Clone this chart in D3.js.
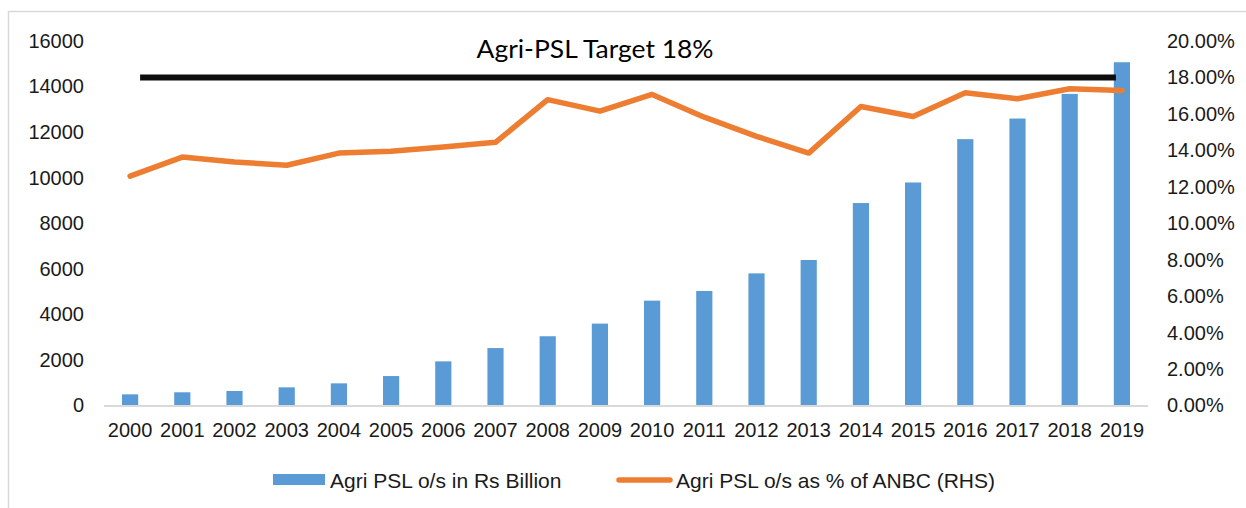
<!DOCTYPE html>
<html>
<head>
<meta charset="utf-8">
<script src="https://cdn.jsdelivr.net/npm/d3@7"></script>
<style>
  html, body { margin: 0; padding: 0; background: #fff; }
  svg { display: block; }
</style>
</head>
<body>
<svg id="chart" width="1246" height="508"></svg>
<script>
const years = ["2000","2001","2002","2003","2004","2005","2006","2007","2008","2009",
               "2010","2011","2012","2013","2014","2015","2016","2017","2018","2019"];
const psl = [490, 580, 636, 798, 973, 1293, 1938, 2521, 3040, 3595,
             4603, 5028, 5800, 6388, 8887, 9790, 11692, 12596, 13678, 15068];
const pslPct = [0.1259, 0.1363, 0.1336, 0.1318, 0.1385, 0.1395, 0.1418, 0.1444, 0.1678, 0.1615,
                0.1707, 0.1582, 0.1477, 0.1385, 0.1641, 0.1586, 0.1716, 0.1683, 0.1738, 0.1729];
const leftTicks = [0, 2000, 4000, 6000, 8000, 10000, 12000, 14000, 16000];
const rightTicks = [0, 0.02, 0.04, 0.06, 0.08, 0.10, 0.12, 0.14, 0.16, 0.18, 0.20];
const targetValue = 0.18;
const targetLabel = "Agri-PSL Target 18%";
const seriesNames = ["Agri PSL o/s in Rs Billion", "Agri PSL o/s as % of ANBC (RHS)"];

const svg = d3.select("#chart");
const BAR = "#5B9BD5", LINE = "#ED7D31", TXT = "#1a1a1a";
const FONT = "Liberation Sans, Arial, sans-serif";

// chart border
svg.append("rect").attr("x", 8.5).attr("y", 11.5).attr("width", 1300).attr("height", 600)
  .attr("fill", "#fff").attr("stroke", "#d9d9d9").attr("stroke-width", 1.5);

const x = d3.scaleBand().domain(years).range([104, 1148]).paddingInner(0.69).paddingOuter(0.345);
const yL = d3.scaleLinear().domain([0, 16000]).range([405.5, 41]);
const yR = d3.scaleLinear().domain([0, 0.20]).range([405.5, 41]);

// left axis
const axL = svg.append("g").attr("transform", "translate(86,0)")
  .call(d3.axisLeft(yL).tickValues(leftTicks).tickSize(0).tickPadding(2).tickFormat(d3.format("d")));
axL.select(".domain").remove();
axL.selectAll("text").attr("font-family", FONT).attr("font-size", 20).attr("fill", TXT);

// right axis
const axR = svg.append("g").attr("transform", "translate(1165,0)")
  .call(d3.axisRight(yR).tickValues(rightTicks).tickSize(0).tickPadding(2).tickFormat(d3.format(".2%")));
axR.select(".domain").remove();
axR.selectAll("text").attr("font-family", FONT).attr("font-size", 20).attr("fill", TXT);

// bars
svg.append("g").selectAll("rect").data(years).join("rect")
  .attr("x", d => x(d)).attr("width", x.bandwidth())
  .attr("y", (d, i) => yL(psl[i])).attr("height", (d, i) => yL(0) - yL(psl[i]))
  .attr("fill", BAR);

// baseline
svg.append("line").attr("x1", 104).attr("x2", 1148).attr("y1", 406).attr("y2", 406)
  .attr("stroke", "#d9d9d9").attr("stroke-width", 2);

// category axis
const axB = svg.append("g").attr("transform", "translate(0,406)")
  .call(d3.axisBottom(x).tickSize(0).tickPadding(17));
axB.select(".domain").remove();
axB.selectAll("text").attr("font-family", FONT).attr("font-size", 20).attr("fill", TXT);

// target line
const cx = d => x(d) + x.bandwidth() / 2;
svg.append("line")
  .attr("x1", cx(years[0]) + 10).attr("x2", cx(years[years.length - 1]) - 6)
  .attr("y1", yR(targetValue)).attr("y2", yR(targetValue))
  .attr("stroke", "#0d0d0d").attr("stroke-width", 6);

svg.append("text").text(targetLabel)
  .attr("x", 595).attr("y", 58).attr("text-anchor", "middle")
  .attr("font-family", "Lato, 'Open Sans', sans-serif").attr("font-size", 25)
  .attr("textLength", 237).attr("lengthAdjust", "spacingAndGlyphs")
  .attr("fill", "#000");

// line series
const line = d3.line().x((d, i) => cx(years[i])).y(d => yR(d));
svg.append("path").datum(pslPct).attr("d", line)
  .attr("fill", "none").attr("stroke", LINE).attr("stroke-width", 5.5)
  .attr("stroke-linejoin", "round").attr("stroke-linecap", "round");

// legend
const lg = svg.append("g").attr("font-family", FONT).attr("font-size", 21).attr("fill", TXT);
lg.append("rect").attr("x", 273).attr("y", 474).attr("width", 52).attr("height", 11).attr("fill", BAR);
lg.append("text").text(seriesNames[0]).attr("x", 330).attr("y", 480).attr("dominant-baseline", "central");
lg.append("line").attr("x1", 619).attr("x2", 670).attr("y1", 480).attr("y2", 480)
  .attr("stroke", LINE).attr("stroke-width", 5.5).attr("stroke-linecap", "round");
lg.append("text").text(seriesNames[1]).attr("x", 676).attr("y", 480).attr("dominant-baseline", "central");
</script>
</body>
</html>
